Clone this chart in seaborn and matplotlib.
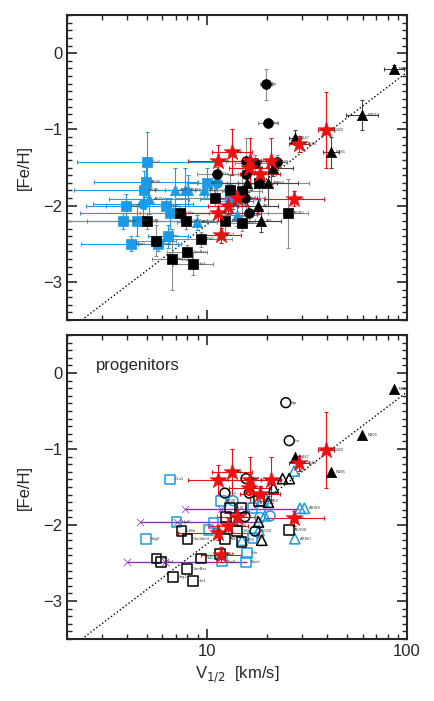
import numpy as np
import matplotlib.pyplot as plt
import seaborn as sns
from matplotlib.ticker import MultipleLocator, LogLocator, NullFormatter, FuncFormatter

sns.set_style('ticks')
plt.rcParams['font.family'] = ['Liberation Sans', 'DejaVu Sans']

BLUE = '#1c9ae6'
RED = '#ee1010'
PURPLE = '#8a2fbf'
GREY = '#8c8c8c'

# ---------------- top panel (observed) ----------------
# blue filled squares
t_bsq_v = [5.0, 4.95, 4.84, 3.94, 6.24, 6.58, 3.79, 4.50, 4.17, 6.41, 5.71, 9.96, 13.1]
t_bsq_feh = [-1.43, -1.69, -1.80, -2.00, -2.00, -2.10, -2.20, -2.20, -2.50, -2.40, -2.50, -1.70, -1.91]
t_bsq_dx = [0.35, 0.26, 0.35, 0.10, 0.40, 0.45, 0.30, 0.25, 0.25, 0.10, 0.10, 0.10, 0.15]
t_bsq_dy = [0.40, 0.20, 0.25, 0.15, 0.10, 0.20, 0.10, 0.20, 0.10, 0.15, 0.10, 0.20, 0.20]
t_bsq_lab = ['Gru1', 'AXVII', 'AXXII', 'LeoV', 'HydII', 'AXX', 'SegII', 'AXII', 'BooII',
             'Her', 'TucII', 'AdXXV', '']
# blue filled circles
t_bci_v = [4.81, 11.3, 13.5]
t_bci_feh = [-1.98, -1.70, -1.94]
t_bci_dx = [0.25, 0.10, 0.10]
t_bci_dy = [0.20, 0.15, 0.10]
# blue filled triangles
t_btr_v = [5.15, 6.92, 7.76, 8.07, 9.66, 8.95, 14.1]
t_btr_feh = [-1.91, -1.80, -1.80, -1.80, -1.80, -2.22, -2.12]
t_btr_dx = [0.20, 0.10, 0.10, 0.20, 0.10, 0.10, 0.10]
t_btr_dy = [0.20, 0.30, 0.30, 0.20, 0.10, 0.10, 0.15]
t_btr_lab = ['AXXV', 'AXV', 'AXXIX', '', 'AXXI', 'AXXVII', '']
# black filled squares
t_ksq_v = [5.03, 5.60, 7.38, 7.91, 9.40, 7.97, 6.73, 8.48, 10.96, 12.3, 13.1, 14.9, 14.9, 18.2, 25.5]
t_ksq_feh = [-2.20, -2.46, -2.10, -2.20, -2.44, -2.61, -2.70, -2.76, -1.90, -2.20, -1.80, -1.81,
             -2.23, -1.70, -2.10]
t_ksq_dx = [0.45, 0.10, 0.20, 0.15, 0.15, 0.10, 0.10, 0.10, 0.20, 0.15, 0.10, 0.10, 0.10, 0.25, 0.10]
t_ksq_dy = [0.10, 0.20, 0.10, 0.10, 0.10, 0.10, 0.40, 0.15, 0.10, 0.20, 0.20, 0.40, 0.10, 0.30, 0.45]
t_ksq_lab = ['Wil1', '', 'UMa', 'CanVenII', 'Pal1', 'ComBer', 'Seg1', 'Hor1', '', 'UMa', '', '',
             'Sext', '', 'AXXIII']
# black filled circles
t_kci_v = [19.7, 20.1, 11.3, 15.7, 15.7, 17.4, 15.5, 16.3, 22.3]
t_kci_feh = [-0.41, -0.91, -1.59, -1.59, -1.41, -1.44, -1.90, -2.10, -1.43]
t_kci_dx = [0.03, 0.05, 0.10, 0.15, 0.10, 0.10, 0.10, 0.20, 0.05]
t_kci_dy = [0.20, 0.05, 0.10, 0.10, 0.30, 0.10, 0.10, 0.10, 0.10]
t_kci_lab = ['Sgr', 'For', 'Dra', '', 'AII', '', 'Scl', 'Car', 'AVII']
# black filled triangles
t_ktr_v = [86.0, 59.8, 41.5, 27.5, 21.5, 20.3, 15.9, 18.1, 18.7]
t_ktr_feh = [-0.21, -0.81, -1.30, -1.11, -1.51, -1.70, -1.70, -2.01, -2.20]
t_ktr_dx = [0.05, 0.08, 0.04, 0.03, 0.10, 0.15, 0.15, 0.10, 0.10]
t_ktr_dy = [0.05, 0.20, 0.20, 0.10, 0.10, 0.30, 0.30, 0.10, 0.15]
t_ktr_lab = ['M32', 'N205', 'N185', 'N147', 'AI', 'AXXIX', '', 'AV', 'AIX']
# red stars (same in both panels)
star_v = [39.6, 28.9, 11.4, 13.4, 16.4, 16.3, 21.0, 18.4, 14.1, 12.8, 11.4, 11.7, 27.3]
star_feh = [-1.01, -1.19, -1.41, -1.30, -1.41, -1.51, -1.41, -1.59, -1.90, -2.01, -2.10, -2.39, -1.91]
star_dx = [0.04, 0.05, 0.15, 0.10, 0.15, 0.10, 0.05, 0.10, 0.10, 0.10, 0.20, 0.10, 0.15]
star_dy = [0.50, 0.10, 0.20, 0.30, 0.30, 0.10, 0.30, 0.10, 0.10, 0.10, 0.10, 0.10, 0.10]
star_lab = ['N6822', 'IC1613', 'Peg', 'Aqr', 'WLM', 'LeoA', 'Phx', 'LGS3', 'Tuc', 'AXXVIII',
            'AXXX', 'LeoT', 'Cet']

# ---------------- bottom panel (progenitors) ----------------
b_bsq_v = [6.53, 7.05, 4.95, 10.2, 10.8, 11.8, 15.8, 11.9, 15.7, 16.9, 16.9, 19.0]
b_bsq_feh = [-1.40, -1.96, -2.18, -2.07, -1.97, -1.68, -2.37, -2.48, -2.49, -1.78, -2.17, -1.68]
b_bsq_lab = ['Gru1', 'HydII', 'SegII', 'AXXII', '', 'AXVII', 'Her', 'TucII', 'BooII', '', 'AXX', 'AXXX']
b_bci_v = [13.5, 20.7, 18.4]
b_bci_feh = [-1.68, -1.88, -1.90]
b_btr_v = [27.3, 29.2, 30.7, 27.5, 15.0, 18.2, 18.8, 19.5]
b_btr_feh = [-1.29, -1.78, -1.78, -2.18, -2.20, -2.07, -1.68, -1.88]
b_btr_lab = ['AI', '', 'AXXIX', 'AXXIII', 'AXV', '', '', '']
b_ksq_v = [5.60, 5.89, 7.47, 8.0, 9.33, 7.97, 6.79, 8.54, 11.6, 12.3, 14.1, 14.9, 13.1, 14.9, 12.5,
           18.2, 25.8]
b_ksq_feh = [-2.44, -2.49, -2.08, -2.18, -2.44, -2.58, -2.68, -2.74, -2.38, -2.18, -2.08, -2.22,
             -1.78, -1.78, -1.89, -1.68, -2.07]
b_ksq_lab = ['Wil1', 'Hor1', 'UMa', 'CanVenII', 'Pal1', 'ComBer', 'Seg1', 'Her1', 'Boo1', 'AIX',
             'UMaI', '', 'AXXI', '', '', 'AXXX', 'AXXVII']
b_kci_v = [24.8, 25.8, 15.7, 12.3, 16.3, 15.5, 17.4]
b_kci_feh = [-0.39, -0.89, -1.39, -1.58, -1.58, -1.89, -2.08]
b_kci_lab = ['Sgr', 'For', 'AII', 'Dra', '', '', 'N6553']
b_ktr_v = [21.5, 23.9, 25.8, 20.3, 18.1, 18.8]
b_ktr_feh = [-1.51, -1.39, -1.39, -1.70, -1.96, -2.20]
b_kftr_v = [86.0, 59.8, 41.5, 27.5]
b_kftr_feh = [-0.21, -0.81, -1.30, -1.11]
b_kftr_lab = ['M32', 'N205', 'N185', 'N147']
# purple crosses and their ranges
px_v = [7.82, 11.8, 4.62, 7.11, 4.01, 6.17]
px_feh = [-1.79, -1.79, -1.96, -1.96, -2.48, -2.48]
prow_feh = [-1.79, -1.96, -2.48]
prow_lo = [7.82, 4.62, 4.01]
prow_hi = [29.0, 19.0, 15.8]

# reference relation (dotted line)
rel_slope, rel_icpt = 2.0, -4.25
rel_v = np.array([2.0, 100.0])


def errs(ax, v, feh, dx, dy, col):
    v = np.asarray(v)
    dx = np.asarray(dx)
    xe = [v - v * 10 ** (-dx), v * 10 ** dx - v]
    ax.errorbar(v, feh, xerr=xe, yerr=dy, fmt='none', ecolor=col, elinewidth=0.8,
                capsize=1.5, capthick=0.8, zorder=1)


def pts(ax, v, feh, marker, col, filled=True, s=50, z=3):
    if filled:
        sns.scatterplot(x=v, y=feh, marker=marker, s=s, color=col, edgecolor=col,
                        linewidth=0.5, ax=ax, zorder=z, legend=False)
    else:
        sns.scatterplot(x=v, y=feh, marker=marker, s=s, facecolor='none', edgecolor=col,
                        linewidth=1.1, ax=ax, zorder=z, legend=False)


def labels(ax, v, feh, names):
    for xv, yv, t in zip(v, feh, names):
        if t:
            ax.annotate(t, (xv, yv), xytext=(3.5, 0), textcoords='offset points',
                        fontsize=3, va='center', color='#333333', zorder=5)


fig = plt.figure(figsize=(4.35, 7.01), dpi=100)
ax1 = fig.add_axes([0.154, 0.5435, 0.7816, 0.435])
ax2 = fig.add_axes([0.154, 0.0884, 0.7816, 0.4337])

for ax in (ax1, ax2):
    ax.plot(rel_v, rel_slope * np.log10(rel_v) + rel_icpt, ls=':', color='black', lw=1.0, zorder=0)

# top panel
errs(ax1, t_bsq_v, t_bsq_feh, t_bsq_dx, t_bsq_dy, BLUE)
errs(ax1, t_bci_v, t_bci_feh, t_bci_dx, t_bci_dy, BLUE)
errs(ax1, t_btr_v, t_btr_feh, t_btr_dx, t_btr_dy, BLUE)
errs(ax1, t_ksq_v, t_ksq_feh, t_ksq_dx, t_ksq_dy, GREY)
errs(ax1, t_kci_v, t_kci_feh, t_kci_dx, t_kci_dy, GREY)
errs(ax1, t_ktr_v, t_ktr_feh, t_ktr_dx, t_ktr_dy, '#444444')
errs(ax1, star_v, star_feh, star_dx, star_dy, RED)
pts(ax1, t_bsq_v, t_bsq_feh, 's', BLUE)
pts(ax1, t_bci_v, t_bci_feh, 'o', BLUE)
pts(ax1, t_btr_v, t_btr_feh, '^', BLUE, s=55)
pts(ax1, t_ksq_v, t_ksq_feh, 's', 'black')
pts(ax1, t_kci_v, t_kci_feh, 'o', 'black')
pts(ax1, t_ktr_v, t_ktr_feh, '^', 'black', s=55)
pts(ax1, star_v, star_feh, '*', RED, s=160, z=4)
labels(ax1, t_bsq_v, t_bsq_feh, t_bsq_lab)
labels(ax1, t_btr_v, t_btr_feh, t_btr_lab)
labels(ax1, t_ksq_v, t_ksq_feh, t_ksq_lab)
labels(ax1, t_kci_v, t_kci_feh, t_kci_lab)
labels(ax1, t_ktr_v, t_ktr_feh, t_ktr_lab)
labels(ax1, star_v, star_feh, star_lab)

# bottom panel
ax2.hlines(prow_feh, prow_lo, prow_hi, color=PURPLE, lw=1.0, zorder=1)
errs(ax2, star_v, star_feh, star_dx, star_dy, RED)
pts(ax2, b_bsq_v, b_bsq_feh, 's', BLUE, filled=False)
pts(ax2, b_bci_v, b_bci_feh, 'o', BLUE, filled=False)
pts(ax2, b_btr_v, b_btr_feh, '^', BLUE, filled=False, s=55)
pts(ax2, b_ksq_v, b_ksq_feh, 's', 'black', filled=False)
pts(ax2, b_kci_v, b_kci_feh, 'o', 'black', filled=False)
pts(ax2, b_ktr_v, b_ktr_feh, '^', 'black', filled=False, s=55)
pts(ax2, b_kftr_v, b_kftr_feh, '^', 'black', s=55)
pts(ax2, px_v, px_feh, 'x', PURPLE, s=28)
pts(ax2, star_v, star_feh, '*', RED, s=160, z=4)
labels(ax2, b_bsq_v, b_bsq_feh, b_bsq_lab)
labels(ax2, b_btr_v, b_btr_feh, b_btr_lab)
labels(ax2, b_ksq_v, b_ksq_feh, b_ksq_lab)
labels(ax2, b_kci_v, b_kci_feh, b_kci_lab)
labels(ax2, b_kftr_v, b_kftr_feh, b_kftr_lab)
labels(ax2, star_v, star_feh, star_lab)
ax2.text(0.085, 0.90, 'progenitors', transform=ax2.transAxes, fontsize=12, va='center')

for ax in (ax1, ax2):
    ax.set_xscale('log')
    ax.set_xlim(2, 100)
    ax.set_ylim(-3.5, 0.5)
    ax.xaxis.set_major_locator(LogLocator(base=10))
    ax.xaxis.set_minor_locator(LogLocator(base=10, subs=np.arange(2, 10)))
    ax.xaxis.set_minor_formatter(NullFormatter())
    ax.xaxis.set_major_formatter(FuncFormatter(lambda v, p: f'{v:g}'))
    ax.yaxis.set_major_locator(MultipleLocator(1))
    ax.yaxis.set_minor_locator(MultipleLocator(0.1))
    ax.yaxis.set_major_formatter(FuncFormatter(lambda v, p: f'{v:.0f}'.replace('-', '\u2212')))
    ax.tick_params(which='both', direction='in', top=True, right=True, labelsize=12)
    ax.tick_params(which='major', length=7, width=1.2)
    ax.tick_params(which='minor', length=3.5, width=1.0)
    for sp in ax.spines.values():
        sp.set_linewidth(1.5)
    ax.set_ylabel('[Fe/H]', fontsize=12, labelpad=8)
    ax.set_xlabel('')

ax1.tick_params(axis='x', labelbottom=False)
ax2.set_xlabel(r'V$_{1/2}$  [km/s]', fontsize=12)

fig.savefig('out.png', dpi=100)
